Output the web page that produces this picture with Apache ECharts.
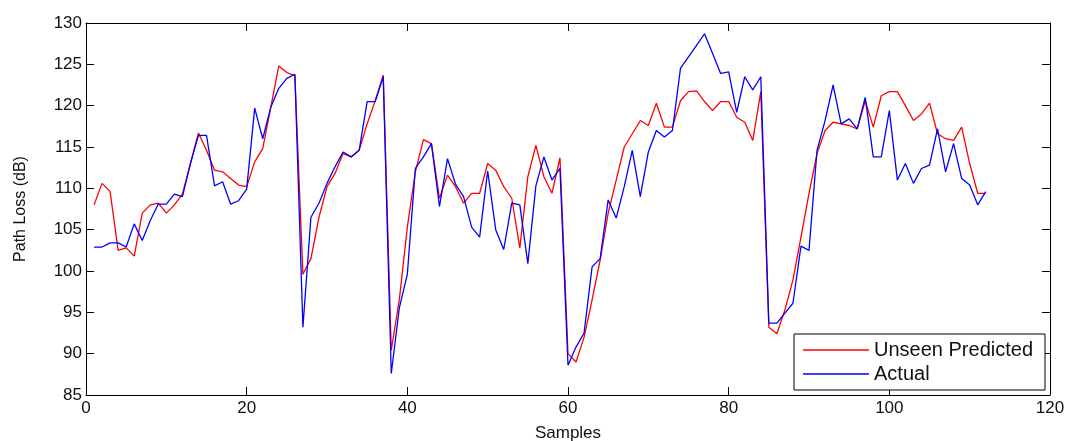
<!DOCTYPE html>
<html>
<head>
<meta charset="utf-8">
<script src="https://cdn.jsdelivr.net/npm/echarts@6/dist/echarts.min.js"></script>
<style>
html,body{margin:0;padding:0;background:#fff;}
#chart{width:1071px;height:441px;}
</style>
</head>
<body>
<div id="chart"></div>
<script>
// Path loss per sample (samples numbered 1..112)
const predicted = [
108.0,110.6,109.6,102.5,102.8,101.8,107.0,108.0,108.2,107.0,
108.0,109.3,113.0,116.7,114.6,112.2,112.0,111.2,110.4,110.2,
113.2,114.8,119.8,124.8,124.0,123.6,99.6,101.5,106.5,110.2,
111.8,114.2,113.8,114.6,117.8,120.6,123.7,90.4,96.5,105.3,
112.0,115.9,115.4,108.8,111.6,110.2,108.2,109.4,109.4,113.0,
112.2,110.2,108.8,102.8,111.4,115.2,111.4,109.4,113.7,90.0,
89.0,92.0,96.5,101.3,107.0,111.0,115.0,116.6,118.2,117.6,
120.3,117.4,117.4,120.6,121.7,121.8,120.5,119.4,120.5,120.5,
118.6,118.0,115.8,121.7,93.2,92.4,95.3,98.9,104.1,109.4,
114.2,117.0,118.0,117.8,117.6,117.2,120.6,117.4,121.2,121.7,
121.7,120.0,118.2,119.0,120.3,116.6,116.0,115.8,117.4,113.0,
109.4,109.4
];
const actual = [
102.9,102.9,103.4,103.4,102.9,105.7,103.7,106.1,108.1,108.1,
109.3,109.0,113.0,116.4,116.4,110.3,110.8,108.1,108.5,109.9,
119.7,116.0,119.8,122.1,123.3,123.8,93.2,106.5,108.2,110.6,
112.6,114.4,113.8,114.6,120.5,120.5,123.5,87.6,95.5,99.6,
112.4,113.8,115.4,107.8,113.6,110.5,109.0,105.3,104.1,112.1,
105.0,102.6,108.2,108.0,100.9,110.3,113.8,111.0,112.4,88.6,
90.8,92.5,100.5,101.5,108.6,106.4,110.2,114.6,109.0,114.4,
117.0,116.2,117.0,124.5,125.9,127.3,128.7,126.3,123.9,124.1,
119.2,123.5,121.9,123.5,93.7,93.7,94.9,96.1,103.0,102.5,
114.6,118.2,122.5,117.8,118.4,117.2,121.0,113.8,113.8,119.4,
111.0,113.0,110.6,112.4,112.8,117.2,112.0,115.4,111.2,110.4,
108.0,109.6
];
const seriesNames = ['Unseen Predicted', 'Actual'];
const xTicks = {min: 0, max: 120, step: 20};
const yTicks = {min: 85, max: 130, step: 5};
const xTitle = 'Samples';
const yTitle = 'Path Loss (dB)';

const toPairs = arr => arr.map((v, i) => [i + 1, v]);
const FONT = '"Liberation Sans", Arial, sans-serif';
const axisLineStyle = {color: '#000', width: 1};
const tick = {show: true, inside: true, length: 8, lineStyle: {color: '#000', width: 1}};

const chart = echarts.init(document.getElementById('chart'), null, {renderer: 'canvas'});
chart.setOption({
  animation: false,
  backgroundColor: '#fff',
  grid: {left: 86, right: 21, top: 23, bottom: 46, containLabel: false, outerBoundsMode: 'none'},
  legend: {
    show: true,
    orient: 'vertical',
    right: 26, bottom: 51,
    backgroundColor: '#fff',
    borderColor: '#000', borderWidth: 1, borderRadius: 0,
    padding: [6, 12, 6, 9],
    itemWidth: 66, itemHeight: 1.3, itemGap: 4, itemTextGap: 9,
    textStyle: {fontFamily: FONT, fontSize: 20, lineHeight: 20, color: '#111'},
    data: [
      {name: seriesNames[0], icon: 'rect', itemStyle: {color: '#ff0000'}},
      {name: seriesNames[1], icon: 'rect', itemStyle: {color: '#0000ff'}}
    ]
  },
  xAxis: [{
    type: 'value', min: xTicks.min, max: xTicks.max, interval: xTicks.step,
    position: 'bottom',
    name: xTitle, nameLocation: 'middle', nameGap: 30,
    nameTextStyle: {fontFamily: FONT, fontSize: 17, color: '#111'},
    axisLine: {show: true, onZero: false, lineStyle: axisLineStyle},
    axisTick: tick,
    axisLabel: {fontFamily: FONT, fontSize: 17, color: '#111', margin: 5},
    splitLine: {show: false}
  }, {
    type: 'value', min: xTicks.min, max: xTicks.max, interval: xTicks.step,
    position: 'top',
    axisLine: {show: true, onZero: false, lineStyle: axisLineStyle},
    axisTick: tick,
    axisLabel: {show: false},
    splitLine: {show: false}
  }],
  yAxis: [{
    type: 'value', min: yTicks.min, max: yTicks.max, interval: yTicks.step,
    position: 'left',
    name: yTitle, nameLocation: 'middle', nameGap: 57, nameRotate: 90,
    nameTextStyle: {fontFamily: FONT, fontSize: 16, color: '#111'},
    axisLine: {show: true, onZero: false, lineStyle: axisLineStyle},
    axisTick: tick,
    axisLabel: {fontFamily: FONT, fontSize: 17, color: '#111', margin: 4},
    splitLine: {show: false}
  }, {
    type: 'value', min: yTicks.min, max: yTicks.max, interval: yTicks.step,
    position: 'right',
    axisLine: {show: true, onZero: false, lineStyle: axisLineStyle},
    axisTick: tick,
    axisLabel: {show: false},
    splitLine: {show: false}
  }],
  series: [{
    name: seriesNames[0], type: 'line', data: toPairs(predicted),
    symbol: 'none', showSymbol: false,
    itemStyle: {color: '#ff0000'},
    lineStyle: {color: '#ff0000', width: 1.3}
  }, {
    name: seriesNames[1], type: 'line', data: toPairs(actual),
    symbol: 'none', showSymbol: false,
    itemStyle: {color: '#0000ff'},
    lineStyle: {color: '#0000ff', width: 1.3}
  }]
});
</script>
</body>
</html>
